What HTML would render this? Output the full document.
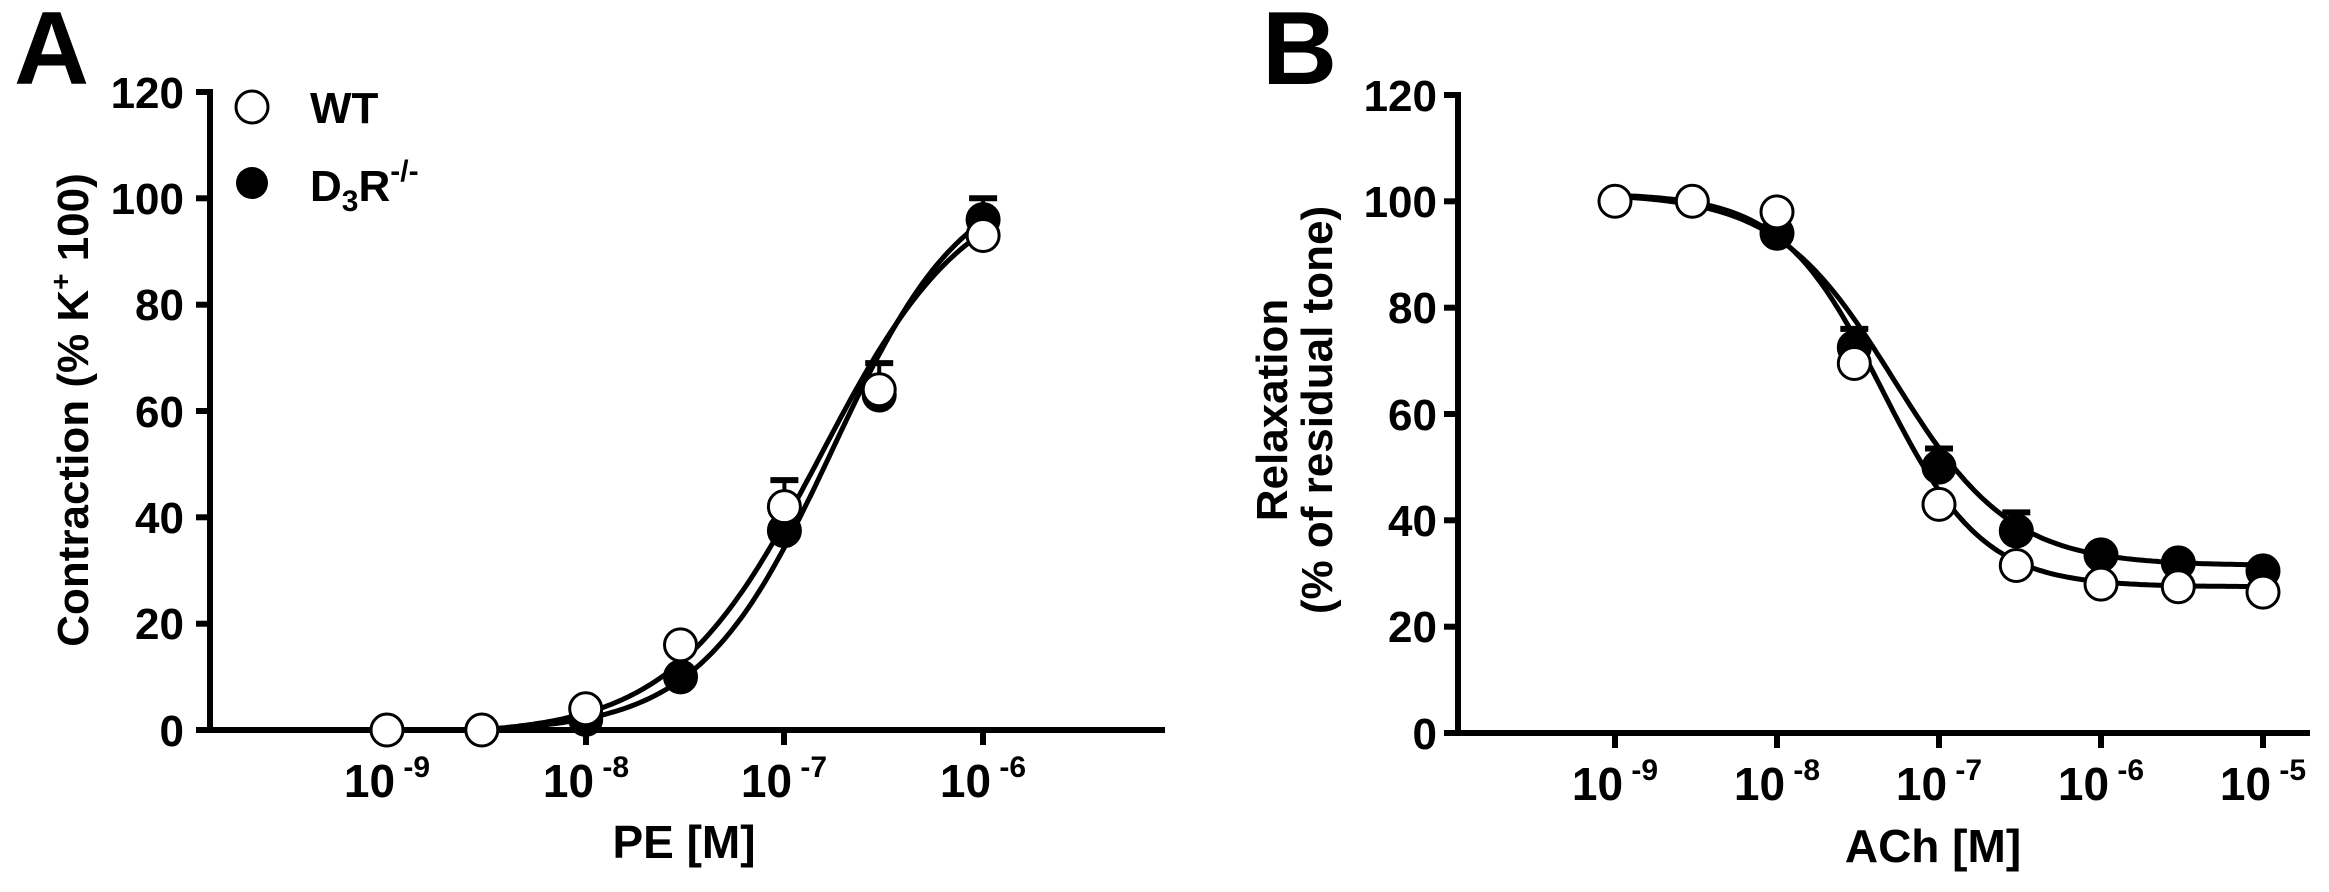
<!DOCTYPE html>
<html><head><meta charset="utf-8"><style>
html,body{margin:0;padding:0;background:#fff;}
svg{display:block;font-family:"Liberation Sans",Arial,sans-serif;font-weight:bold;}
</style></head><body>
<svg id="s" width="2329" height="892" viewBox="0 0 2329 892" xmlns="http://www.w3.org/2000/svg">
<rect width="2329" height="892" fill="#fff"/>
<text x="14" y="84" font-size="104">A</text>
<text x="1262" y="84" font-size="104">B</text>
<!-- Panel A axes -->
<g stroke="#000" stroke-width="6" fill="none">
<line x1="210" y1="89" x2="210" y2="733"/>
<line x1="196" y1="730" x2="1165" y2="730"/>
<line x1="196" y1="92" x2="213" y2="92"/>
<line x1="196" y1="198.3" x2="210" y2="198.3"/>
<line x1="196" y1="304.7" x2="210" y2="304.7"/>
<line x1="196" y1="411" x2="210" y2="411"/>
<line x1="196" y1="517.3" x2="210" y2="517.3"/>
<line x1="196" y1="623.7" x2="210" y2="623.7"/>
<line x1="387" y1="730" x2="387" y2="745"/>
<line x1="586" y1="730" x2="586" y2="745"/>
<line x1="784" y1="730" x2="784" y2="745"/>
<line x1="983" y1="730" x2="983" y2="745"/>
</g>
<g font-size="44" text-anchor="end">
<text x="184" y="108">120</text><text x="184" y="214">100</text><text x="184" y="320">80</text>
<text x="184" y="427">60</text><text x="184" y="533">40</text><text x="184" y="639">20</text><text x="184" y="746">0</text>
</g>
<g font-size="46" text-anchor="middle">
<text x="387" y="797">10<tspan font-size="30" dy="-20"> -9</tspan></text>
<text x="586" y="797">10<tspan font-size="30" dy="-20"> -8</tspan></text>
<text x="784" y="797">10<tspan font-size="30" dy="-20"> -7</tspan></text>
<text x="983" y="797">10<tspan font-size="30" dy="-20"> -6</tspan></text>
<text x="684" y="858" font-size="46">PE [M]</text>
</g>
<text transform="translate(88,410) rotate(-90)" text-anchor="middle" font-size="44">Contraction (% K<tspan font-size="28" dy="-18">+</tspan><tspan dy="18"> 100)</tspan></text>
<circle cx="252" cy="107" r="16" fill="#fff" stroke="#000" stroke-width="3"/>
<text x="310" y="123" font-size="44">WT</text>
<circle cx="252" cy="183" r="16" fill="#000"/>
<text x="310" y="201" font-size="44">D<tspan font-size="30" dy="10">3</tspan><tspan dy="-10">R</tspan><tspan font-size="30" dy="-20">-/-</tspan></text>

<!-- Panel B axes -->
<g stroke="#000" stroke-width="6" fill="none">
<line x1="1458" y1="92" x2="1458" y2="736"/>
<line x1="1444" y1="733" x2="2310" y2="733"/>
<line x1="1444" y1="95" x2="1461" y2="95"/>
<line x1="1444" y1="201.3" x2="1458" y2="201.3"/>
<line x1="1444" y1="307.7" x2="1458" y2="307.7"/>
<line x1="1444" y1="414" x2="1458" y2="414"/>
<line x1="1444" y1="520.3" x2="1458" y2="520.3"/>
<line x1="1444" y1="626.7" x2="1458" y2="626.7"/>
<line x1="1615" y1="733" x2="1615" y2="748"/>
<line x1="1777" y1="733" x2="1777" y2="748"/>
<line x1="1939" y1="733" x2="1939" y2="748"/>
<line x1="2101" y1="733" x2="2101" y2="748"/>
<line x1="2263" y1="733" x2="2263" y2="748"/>
</g>
<g font-size="44" text-anchor="end">
<text x="1437" y="111">120</text><text x="1437" y="217">100</text><text x="1437" y="323">80</text>
<text x="1437" y="430">60</text><text x="1437" y="536">40</text><text x="1437" y="642">20</text><text x="1437" y="749">0</text>
</g>
<g font-size="46" text-anchor="middle">
<text x="1615" y="800">10<tspan font-size="30" dy="-20"> -9</tspan></text>
<text x="1777" y="800">10<tspan font-size="30" dy="-20"> -8</tspan></text>
<text x="1939" y="800">10<tspan font-size="30" dy="-20"> -7</tspan></text>
<text x="2101" y="800">10<tspan font-size="30" dy="-20"> -6</tspan></text>
<text x="2263" y="800">10<tspan font-size="30" dy="-20"> -5</tspan></text>
<text x="1933" y="862" font-size="46">ACh [M]</text>
</g>
<g font-size="44" text-anchor="middle">
<text transform="translate(1287,410) rotate(-90)">Relaxation</text>
<text transform="translate(1332,410) rotate(-90)">(% of residual tone)</text>
</g>
<g id="dyn"></g>
</svg>
<script>
(function(){
var NS="http://www.w3.org/2000/svg",g=document.getElementById('dyn');
function el(t,a){var e=document.createElementNS(NS,t);for(var k in a)e.setAttribute(k,a[k]);g.appendChild(e);return e;}
// panel A mapping
function Ax(l){return 387+(l+9)*198.7;} function Ay(v){return 730-v*5.317;}
function Bx(l){return 1615+(l+9)*162;} function By(v){return 733-v*5.317;}
function hill(bot,top,ec,n){return function(l){return bot+(top-bot)/(1+Math.pow(10,(ec-l)*n));};}
function curve(X,Y,f,a,b,clip0){var d="";for(var i=0;i<=200;i++){var l=a+(b-a)*i/200;var v=f(l);if(clip0&&v<0)v=0;d+=(i?"L":"M")+X(l).toFixed(1)+","+Y(v).toFixed(1);}
el('path',{d:d,fill:'none',stroke:'#000','stroke-width':5});}
var fAw=function(l){return hill(0,105,-6.82,1.17)(l)-1.0;};
var fAd=function(l){return hill(0,106,-6.76,1.3)(l)-0.4;};
curve(Ax,Ay,fAw,-8.52,-6,true);curve(Ax,Ay,fAd,-8.52,-6,true);
curve(Bx,By,hill(101.5,27.5,-7.35,1.4),-9,-5);
curve(Bx,By,hill(101.5,31.5,-7.28,1.2),-9,-5);
var L=Math.log10(3);
function err(X,Y,l,v,e){el('line',{x1:X(l),y1:Y(v),x2:X(l),y2:Y(e),stroke:'#000','stroke-width':4});el('line',{x1:X(l)-14,y1:Y(e),x2:X(l)+14,y2:Y(e),stroke:'#000','stroke-width':6});}
function pt(X,Y,l,v,filled){el('circle',{cx:X(l),cy:Y(v),r:16,fill:filled?'#000':'#fff',stroke:'#000','stroke-width':3});}
// A data
err(Ax,Ay,-7,42,47);err(Ax,Ay,-6.5+L-0.5+0.0,64,69);err(Ax,Ay,-6,96,100);
var Ad=[[-8,2],[-8+L,10],[-7,37.5],[-7+L,63],[-6,96]];
var Aw=[[-9,0],[-9+L,0],[-8,4],[-8+L,16],[-7,42],[-7+L,64],[-6,93]];
Ad.forEach(function(p){pt(Ax,Ay,p[0],p[1],true);});
Aw.forEach(function(p){pt(Ax,Ay,p[0],p[1],false);});
// B data
err(Bx,By,-8+L,72.5,76);err(Bx,By,-7,50,53.5);err(Bx,By,-7+L,38,41.5);
var Bd=[[-8,94],[-8+L,72.5],[-7,50],[-7+L,38],[-6,33.5],[-6+L,32],[-5,30.5]];
var Bw=[[-9,100],[-9+L,100],[-8,98],[-8+L,69.5],[-7,43],[-7+L,31.5],[-6,28],[-6+L,27.5],[-5,26.5]];
Bd.forEach(function(p){pt(Bx,By,p[0],p[1],true);});
Bw.forEach(function(p){pt(Bx,By,p[0],p[1],false);});
})();
</script>
</body></html>
